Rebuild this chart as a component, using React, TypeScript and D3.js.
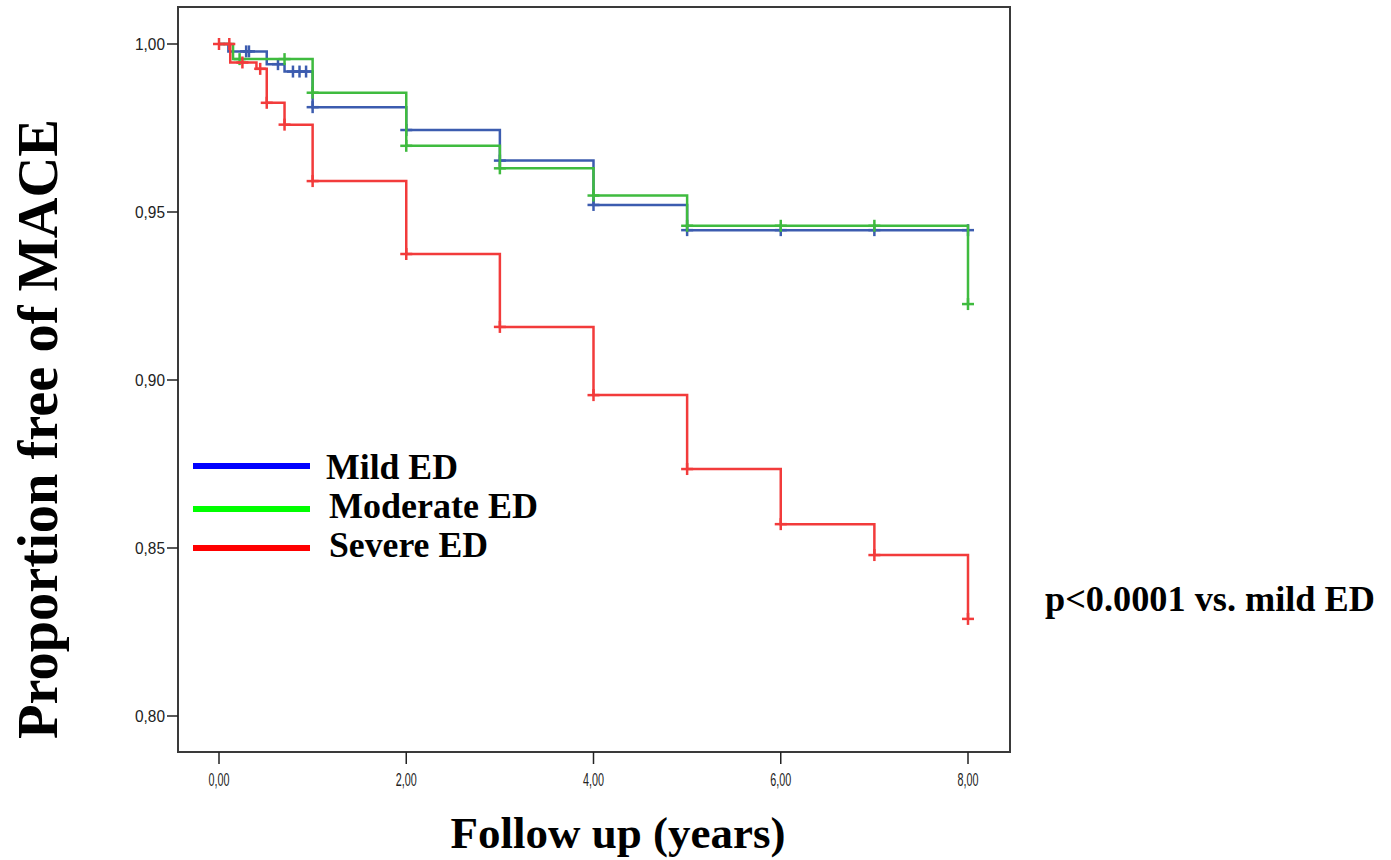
import React, { useRef, useEffect } from "react";
import * as d3 from "d3";

// Kaplan-Meier steps (time in years, proportion free of MACE)
const mildTimes = [0, 0.1, 0.51, 0.7, 1, 2, 3, 4, 5, 8];
const mildValues = [1, 0.9978, 0.994, 0.9918, 0.9812, 0.9744, 0.9653, 0.9521, 0.9446, 0.9446];
const mildCensor = [0.29, 0.32, 0.63, 0.79, 0.86, 0.93, 1, 2, 3, 4, 5, 6, 7, 8];

const moderateTimes = [0, 0.15, 1, 2, 3, 4, 5, 8];
const moderateValues = [1, 0.9955, 0.9855, 0.9697, 0.963, 0.9549, 0.9459, 0.9226];
const moderateCensor = [0.22, 0.7, 1, 2, 3, 4, 5, 6, 7, 8];

const severeTimes = [0, 0.12, 0.4, 0.51, 0.7, 1, 2, 3, 4, 5, 6, 7, 8];
const severeValues = [1, 0.9945, 0.9926, 0.9825, 0.976, 0.9592, 0.9375, 0.9158, 0.8955, 0.8735, 0.8571, 0.8479, 0.8289];
const severeCensor = [0, 0.11, 0.25, 0.44, 0.51, 0.7, 1, 2, 3, 4, 5, 6, 7, 8];

const xTicks = [0, 2, 4, 6, 8];
const yTicks = [0.8, 0.85, 0.9, 0.95, 1];

const legendLabels = ["Mild ED", "Moderate ED", "Severe ED"];
const legendColors = ["#0000ff", "#00ff00", "#ff0000"];
const curveColors = ["#3c5caf", "#3fbb3f", "#f23b3b"];

const App = () => {
  const container = useRef(null);

  const width = 1391;
  const height = 860;

  useEffect(() => {
    const svg = d3.select(container.current);
    svg.selectAll("*").remove();

    const xScale = d3.scaleLinear().domain([0, 8]).range([219, 968]);
    const yScale = d3.scaleLinear().domain([0.8, 1]).range([716, 44]);

    const fmt = (v) => v.toFixed(2).replace(".", ",");

    // plot frame
    svg
      .append("rect")
      .attr("x", 178)
      .attr("y", 7)
      .attr("width", 832)
      .attr("height", 745)
      .attr("fill", "white")
      .attr("stroke", "#3a3a3a")
      .attr("stroke-width", 2);

    // y ticks
    const yAxis = svg.append("g");
    yAxis
      .selectAll("line")
      .data(yTicks)
      .enter()
      .append("line")
      .attr("x1", 167)
      .attr("x2", 178)
      .attr("y1", (d) => yScale(d))
      .attr("y2", (d) => yScale(d))
      .attr("stroke", "#222")
      .attr("stroke-width", 1.5);
    yAxis
      .selectAll("text")
      .data(yTicks)
      .enter()
      .append("text")
      .attr("x", 165)
      .attr("y", (d) => yScale(d))
      .attr("dy", "0.36em")
      .attr("text-anchor", "end")
      .attr("textLength", 30)
      .attr("lengthAdjust", "spacingAndGlyphs")
      .style("font-family", "'Liberation Sans', Arial, sans-serif")
      .style("font-size", "16px")
      .style("fill", "#222")
      .text((d) => fmt(d));

    // x ticks
    const xAxis = svg.append("g");
    xAxis
      .selectAll("line")
      .data(xTicks)
      .enter()
      .append("line")
      .attr("x1", (d) => xScale(d))
      .attr("x2", (d) => xScale(d))
      .attr("y1", 752)
      .attr("y2", 764)
      .attr("stroke", "#222")
      .attr("stroke-width", 1.5);
    xAxis
      .selectAll("text")
      .data(xTicks)
      .enter()
      .append("text")
      .attr("x", (d) => xScale(d))
      .attr("y", 786)
      .attr("text-anchor", "middle")
      .attr("textLength", 21)
      .attr("lengthAdjust", "spacingAndGlyphs")
      .style("font-family", "'Liberation Sans', Arial, sans-serif")
      .style("font-size", "19px")
      .style("fill", "#222")
      .text((d) => fmt(d));

    // survival curves
    const series = [
      { times: mildTimes, values: mildValues, censor: mildCensor },
      { times: moderateTimes, values: moderateValues, censor: moderateCensor },
      { times: severeTimes, values: severeValues, censor: severeCensor },
    ];

    const line = d3
      .line()
      .x((d) => xScale(d[0]))
      .y((d) => yScale(d[1]))
      .curve(d3.curveStepAfter);

    const stepValue = (s, t) => {
      let v = s.values[0];
      for (let i = 0; i < s.times.length; i++) {
        if (s.times[i] <= t) v = s.values[i];
      }
      return v;
    };

    series.forEach((s, i) => {
      const pts = s.times.map((t, j) => [t, s.values[j]]);
      svg
        .append("path")
        .attr("d", line(pts))
        .attr("fill", "none")
        .attr("stroke", curveColors[i])
        .attr("stroke-width", 2.5);

      const marks = svg.append("g").attr("stroke", curveColors[i]).attr("stroke-width", 2.5);
      s.censor.forEach((t) => {
        const cx = xScale(t);
        const cy = yScale(stepValue(s, t));
        marks.append("line").attr("x1", cx - 6).attr("x2", cx + 6).attr("y1", cy).attr("y2", cy);
        marks.append("line").attr("x1", cx).attr("x2", cx).attr("y1", cy - 6).attr("y2", cy + 6);
      });
    });

    // legend
    const legendY = [466, 509, 548];
    const legendTextX = [326, 329, 329];
    const legendTextY = [479, 518, 557];
    const legendTextW = [132, 209, 159];
    const legend = svg.append("g");
    legendLabels.forEach((label, i) => {
      legend
        .append("line")
        .attr("x1", 193)
        .attr("x2", 310)
        .attr("y1", legendY[i])
        .attr("y2", legendY[i])
        .attr("stroke", legendColors[i])
        .attr("stroke-width", 6);
      legend
        .append("text")
        .attr("x", legendTextX[i])
        .attr("y", legendTextY[i])
        .attr("textLength", legendTextW[i])
        .attr("lengthAdjust", "spacingAndGlyphs")
        .style("font-family", "'Liberation Serif', 'Times New Roman', serif")
        .style("font-weight", "bold")
        .style("font-size", "35px")
        .style("fill", "#000")
        .text(label);
    });

    // titles
    svg
      .append("text")
      .attr("transform", "translate(57, 429) rotate(-90)")
      .attr("text-anchor", "middle")
      .attr("textLength", 620)
      .attr("lengthAdjust", "spacingAndGlyphs")
      .style("font-family", "'Liberation Serif', 'Times New Roman', serif")
      .style("font-weight", "bold")
      .style("font-size", "56px")
      .style("fill", "#000")
      .text("Proportion free of MACE");

    svg
      .append("text")
      .attr("x", 618)
      .attr("y", 848)
      .attr("text-anchor", "middle")
      .style("font-family", "'Liberation Serif', 'Times New Roman', serif")
      .style("font-weight", "bold")
      .style("font-size", "45px")
      .style("fill", "#000")
      .text("Follow up (years)");

    svg
      .append("text")
      .attr("x", 1045)
      .attr("y", 611)
      .attr("textLength", 330)
      .attr("lengthAdjust", "spacingAndGlyphs")
      .style("font-family", "'Liberation Serif', 'Times New Roman', serif")
      .style("font-weight", "bold")
      .style("font-size", "35px")
      .style("fill", "#000")
      .text("p<0.0001 vs. mild ED");
  }, []);

  return (
    <div style={{ position: "absolute", left: 0, top: 0, width: width, height: height, background: "white" }}>
      <svg ref={container} width={width} height={height} />
    </div>
  );
};

export default App;
